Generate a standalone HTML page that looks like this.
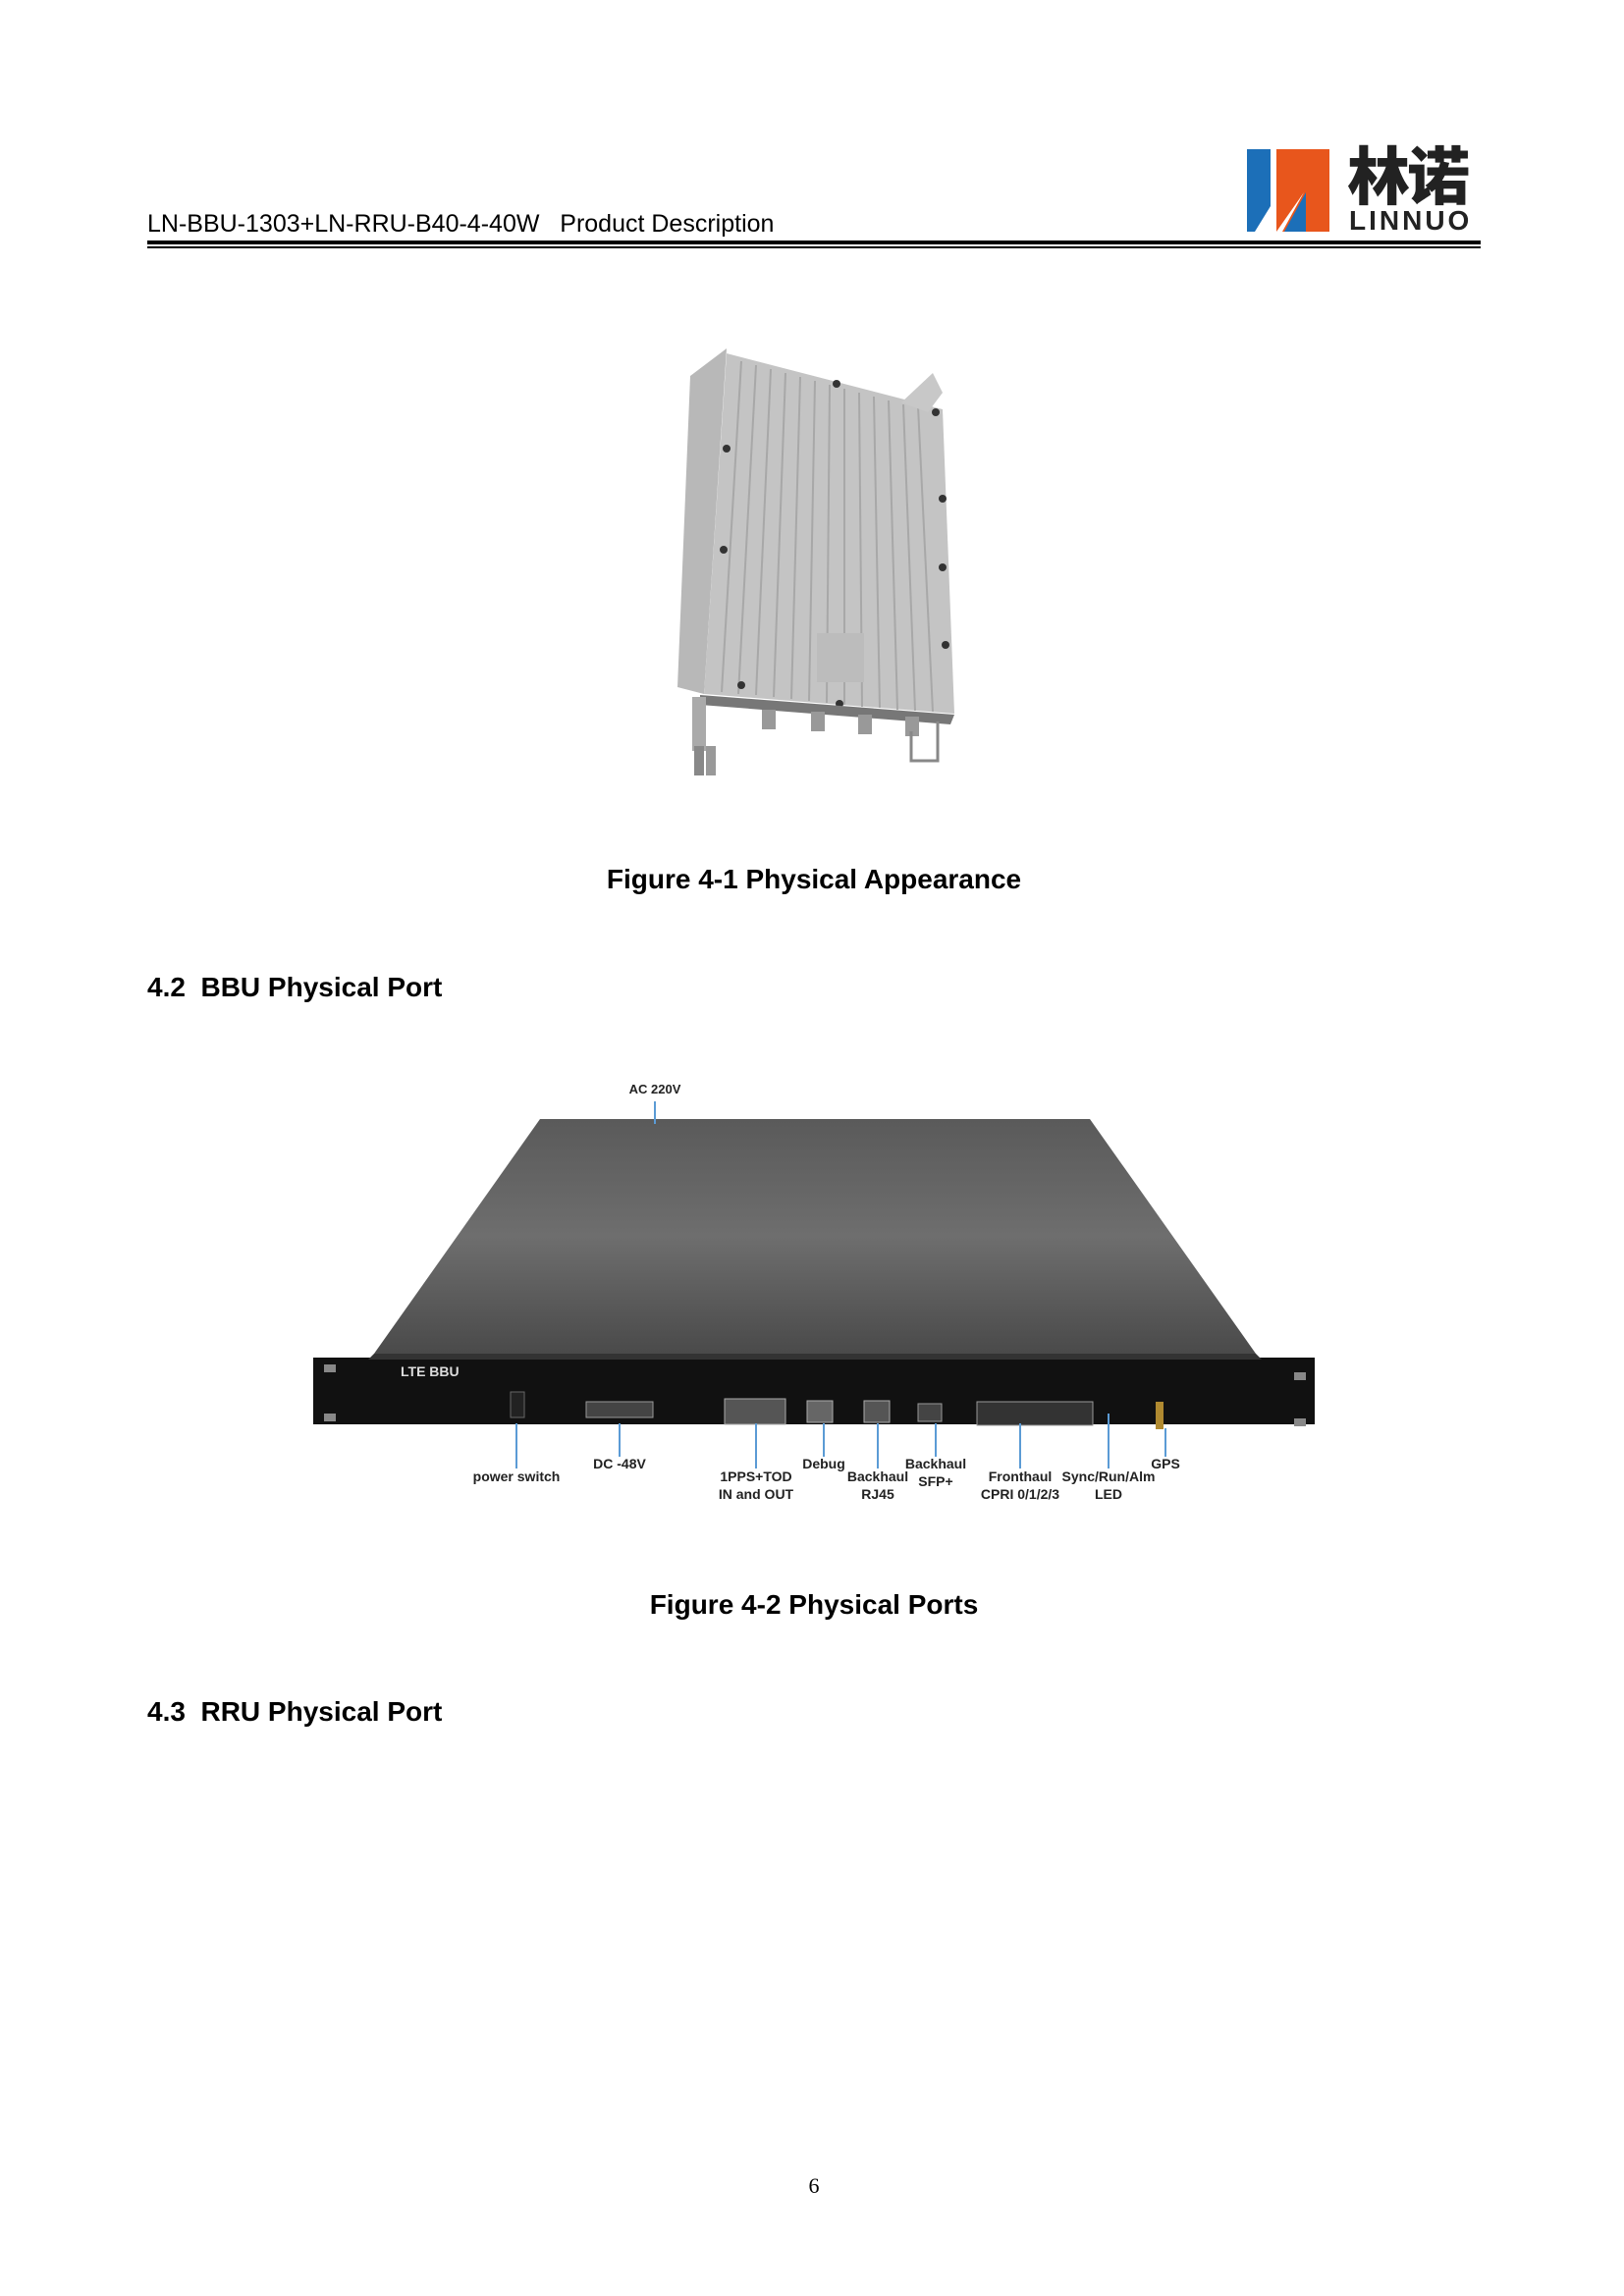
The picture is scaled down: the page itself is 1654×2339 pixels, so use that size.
<!DOCTYPE html>
<html><head><meta charset="utf-8"><style>
html,body{margin:0;padding:0;background:#fff}
body{width:1654px;height:2339px;position:relative;overflow:hidden;font-family:"Liberation Sans",Arial,sans-serif}
.a{position:absolute;white-space:nowrap}
.h{font-weight:bold;font-size:28px;color:#000}
.lbl{position:absolute;font-family:"Liberation Sans Narrow","Liberation Sans",sans-serif;font-weight:bold;font-size:14px;color:#222;text-align:center;transform:translateX(-50%);line-height:18px;white-space:nowrap}
</style></head><body>
<div class="a" style="left:150px;top:214px;font-size:25px;letter-spacing:0px;color:#000">LN-BBU-1303+LN-RRU-B40-4-40W&nbsp;&nbsp;&nbsp;Product Description</div>
<div class="a" style="left:150px;top:245px;width:1358px;height:4px;background:#000"></div>
<div class="a" style="left:150px;top:251px;width:1358px;height:2px;background:#000"></div>
<svg class="a" style="left:1266px;top:148px" width="92" height="92" viewBox="0 0 92 92">
<path d="M4 4 H28 V62 L12 88 H4 Z" fill="#1c6fb8"/>
<path d="M34 4 H88 V88 H40 L62 48 L34 88 Z" fill="#e8561c"/>
<path d="M42 88 L64 48 V88 Z" fill="#1c6fb8"/>
</svg>
<div class="a" style="left:1372px;top:140px;font-family:'Noto Sans CJK SC',sans-serif;font-weight:900;font-size:64px;line-height:72px;letter-spacing:-3px;color:#222">林诺</div>
<div class="a" style="left:1374px;top:210px;font-weight:bold;font-size:28px;letter-spacing:3px;color:#222;line-height:30px">LINNUO</div>

<svg class="a" style="left:0;top:0" width="1654" height="1600">
<defs><linearGradient id="g" x1="0" y1="0" x2="0" y2="1"><stop offset="0" stop-color="#5a5a5a"/><stop offset="0.5" stop-color="#6e6e6e"/><stop offset="1" stop-color="#4a4a4a"/></linearGradient></defs>
<polygon points="703,383 740,355 717,707 690,700" fill="#b8b8b8"/>
<polygon points="740,360 960,417 972,727 717,707" fill="#c4c4c4"/>
<g stroke="#a8a8a8" stroke-width="2">
<line x1="755" y1="368" x2="735" y2="705"/><line x1="770" y1="372" x2="752" y2="707"/><line x1="785" y1="376" x2="770" y2="708"/><line x1="800" y1="380" x2="788" y2="710"/><line x1="815" y1="384" x2="806" y2="712"/><line x1="830" y1="388" x2="824" y2="714"/><line x1="845" y1="392" x2="842" y2="716"/><line x1="860" y1="396" x2="860" y2="718"/><line x1="875" y1="400" x2="878" y2="720"/><line x1="890" y1="404" x2="896" y2="721"/><line x1="905" y1="408" x2="914" y2="723"/><line x1="920" y1="412" x2="932" y2="724"/><line x1="935" y1="414" x2="950" y2="725"/>
</g>
<polygon points="918,410 950,380 960,400 945,420" fill="#c8c8c8"/>
<rect x="832" y="645" width="48" height="50" fill="#bcbcbc"/>
<g fill="#333"><circle cx="852" cy="391" r="4"/><circle cx="953" cy="420" r="4"/><circle cx="740" cy="457" r="4"/><circle cx="737" cy="560" r="4"/><circle cx="960" cy="508" r="4"/><circle cx="960" cy="578" r="4"/><circle cx="963" cy="657" r="4"/><circle cx="755" cy="698" r="4"/><circle cx="855" cy="717" r="4"/></g>
<polygon points="713,708 972,728 968,738 713,718" fill="#777"/>
<g fill="#999"><rect x="776" y="723" width="14" height="20"/><rect x="826" y="725" width="14" height="20"/><rect x="874" y="728" width="14" height="20"/><rect x="922" y="730" width="14" height="20"/></g>
<rect x="705" y="710" width="14" height="55" fill="#aaa"/>
<rect x="707" y="760" width="10" height="30" fill="#888"/><rect x="719" y="760" width="10" height="30" fill="#999"/>
<path d="M928 745 V775 H955 V735" fill="none" stroke="#888" stroke-width="3"/>

<!-- BBU -->
<polygon points="550,1140 1110,1140 1279,1379 381,1379" fill="url(#g)"/>
<rect x="319" y="1383" width="1020" height="68" fill="#111"/>
<polygon points="381,1379 1279,1379 1285,1385 375,1385" fill="#333"/>
<line x1="667" y1="1122" x2="667" y2="1145" stroke="#5b9bd5" stroke-width="2"/>
<g fill="#888"><rect x="330" y="1390" width="12" height="8"/><rect x="330" y="1440" width="12" height="8"/><rect x="1318" y="1398" width="12" height="8"/><rect x="1318" y="1445" width="12" height="8"/></g>
<rect x="520" y="1418" width="14" height="26" fill="#222" stroke="#666"/>
<rect x="597" y="1428" width="68" height="16" fill="#444" stroke="#999"/>
<rect x="738" y="1425" width="62" height="26" fill="#555" stroke="#aaa"/>
<rect x="822" y="1427" width="26" height="22" fill="#666" stroke="#aaa"/>
<rect x="880" y="1427" width="26" height="22" fill="#555" stroke="#aaa"/>
<rect x="935" y="1430" width="24" height="18" fill="#444" stroke="#999"/>
<rect x="995" y="1428" width="118" height="24" fill="#333" stroke="#999"/>
<rect x="1177" y="1428" width="8" height="28" fill="#b08a30"/>
<g stroke="#5b9bd5" stroke-width="2">
<line x1="526" y1="1450" x2="526" y2="1496"/><line x1="631" y1="1450" x2="631" y2="1484"/><line x1="770" y1="1450" x2="770" y2="1496"/><line x1="839" y1="1450" x2="839" y2="1484"/><line x1="894" y1="1450" x2="894" y2="1496"/><line x1="953" y1="1450" x2="953" y2="1484"/><line x1="1039" y1="1450" x2="1039" y2="1496"/><line x1="1129" y1="1440" x2="1129" y2="1496"/><line x1="1187" y1="1455" x2="1187" y2="1484"/>
</g>
</svg>
<div class="a" style="left:408px;top:1389px;color:#ddd;font-weight:bold;font-size:14px;font-family:'Liberation Sans Narrow','Liberation Sans',sans-serif">LTE BBU</div>
<div class="lbl" style="left:667px;top:1101px;font-size:13px">AC 220V</div>
<div class="lbl" style="left:526px;top:1495px">power switch</div>
<div class="lbl" style="left:631px;top:1482px">DC -48V</div>
<div class="lbl" style="left:770px;top:1495px">1PPS+TOD<br>IN and OUT</div>
<div class="lbl" style="left:839px;top:1482px">Debug</div>
<div class="lbl" style="left:894px;top:1495px">Backhaul<br>RJ45</div>
<div class="lbl" style="left:953px;top:1482px">Backhaul<br>SFP+</div>
<div class="lbl" style="left:1039px;top:1495px">Fronthaul<br>CPRI 0/1/2/3</div>
<div class="lbl" style="left:1129px;top:1495px">Sync/Run/Alm<br>LED</div>
<div class="lbl" style="left:1187px;top:1482px">GPS</div>

<div class="a h" style="left:0;width:1658px;text-align:center;top:880px">Figure 4-1 Physical Appearance</div>
<div class="a h" style="left:150px;top:990px">4.2&nbsp;&nbsp;BBU Physical Port</div>
<div class="a h" style="left:0;width:1658px;text-align:center;top:1619px">Figure 4-2 Physical Ports</div>
<div class="a h" style="left:150px;top:1728px">4.3&nbsp;&nbsp;RRU Physical Port</div>
<div class="a" style="left:0;width:1658px;text-align:center;top:2214px;font-family:'Liberation Serif',serif;font-size:22px">6</div>
</body></html>
